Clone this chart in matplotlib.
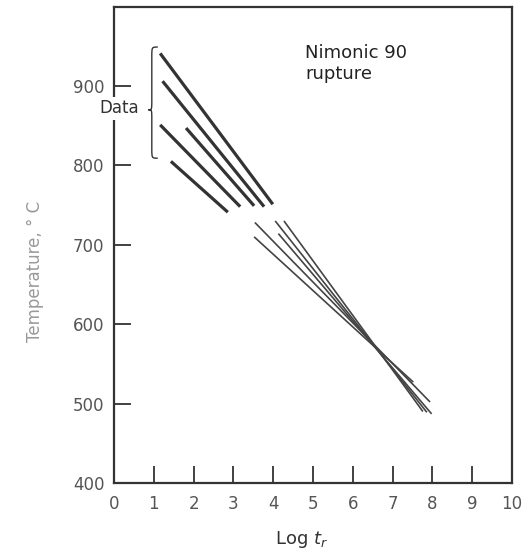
import matplotlib
matplotlib.use("Agg")
import matplotlib.pyplot as plt
from matplotlib.path import Path
from matplotlib.patches import PathPatch

plt.rcParams['font.family'] = ['DejaVu Sans']
plt.rcParams['mathtext.fontset'] = 'custom'
plt.rcParams['mathtext.it'] = 'DejaVu Sans:italic'
plt.rcParams['mathtext.rm'] = 'DejaVu Sans'

# ---- data (log t_r, temperature in C) ----
upper_x_start = [1.16, 1.22, 1.81, 1.16, 1.43]
upper_x_end   = [3.99, 3.77, 3.52, 3.17, 2.86]
upper_T_start = [941, 906, 847, 851, 805]
upper_T_end   = [751, 748, 749, 748, 741]

lower_x_start = [3.54, 3.52, 4.05, 4.27, 4.13]
lower_x_end   = [7.94, 7.52, 7.86, 7.76, 7.98]
lower_T_start = [728, 710, 730, 730, 714]
lower_T_end   = [502, 527, 489, 490, 487]

x_ticks = list(range(0, 11))
x_tick_labels = [str(v) for v in x_ticks]
y_ticks = [400, 500, 600, 700, 800, 900]
y_tick_labels = [str(v) for v in y_ticks]

# brace annotation extents (data units)
brace_top, brace_bottom, brace_mid = 949, 809, 870

ink = '#333333'
lab = '#555555'

fig = plt.figure(figsize=(5.29, 5.54), dpi=100)
ax = fig.add_axes([0.2155, 0.1282, 0.7524, 0.860])
ax.set_xlim(0, 10)
ax.set_ylim(400, 1000)

for xs, xe, ts, te in zip(upper_x_start, upper_x_end, upper_T_start, upper_T_end):
    ax.plot([xs, xe], [ts, te], color=ink, lw=2.3, solid_capstyle='butt')
for xs, xe, ts, te in zip(lower_x_start, lower_x_end, lower_T_start, lower_T_end):
    ax.plot([xs, xe], [ts, te], color='#444444', lw=1.2, solid_capstyle='butt')

for s in ax.spines.values():
    s.set_color(ink)
    s.set_linewidth(1.6)

ax.set_xticks(x_ticks)
ax.set_xticklabels(x_tick_labels)
ax.set_yticks(y_ticks)
ax.set_yticklabels(y_tick_labels)
ax.tick_params(axis='both', direction='in', length=12, width=1.3, color=ink,
               labelsize=12, labelcolor=lab)
ax.tick_params(axis='x', pad=9)
ax.tick_params(axis='y', pad=7)

ax.set_ylabel('Temperature, ° C', fontsize=12, color='#999999')
ax.yaxis.set_label_coords(-0.175, 0.443)

fig.text(302 / 529, 1 - 540 / 554, 'Log $t_r$', ha='center', va='center',
         fontsize=13, color=ink)

ax.text(4.8, 953, 'Nimonic 90\nrupture', ha='left', va='top', fontsize=13,
        color='#222222', linespacing=1.25)

ax.text(0.13, 872, 'Data', ha='center', va='center', fontsize=12, color=ink,
        zorder=5, clip_on=False,
        bbox=dict(boxstyle='square,pad=0.15', fc='white', ec='none'))

# curly brace
xt, xm, xe, r = 0.86, 0.95, 1.10, 12
verts = [(xe, brace_top), (xm, brace_top), (xm, brace_top), (xm, brace_top - r),
         (xm, brace_mid + r),
         (xm, brace_mid), (xm, brace_mid), (xt, brace_mid),
         (xm, brace_mid), (xm, brace_mid), (xm, brace_mid - r),
         (xm, brace_bottom + r),
         (xm, brace_bottom), (xm, brace_bottom), (xe, brace_bottom)]
codes = [Path.MOVETO, Path.CURVE4, Path.CURVE4, Path.CURVE4,
         Path.LINETO,
         Path.CURVE4, Path.CURVE4, Path.CURVE4,
         Path.CURVE4, Path.CURVE4, Path.CURVE4,
         Path.LINETO,
         Path.CURVE4, Path.CURVE4, Path.CURVE4]
ax.add_patch(PathPatch(Path(verts, codes), fc='none', ec=ink, lw=1.0, zorder=4))

fig.savefig('out.png', dpi=100, facecolor='white')
